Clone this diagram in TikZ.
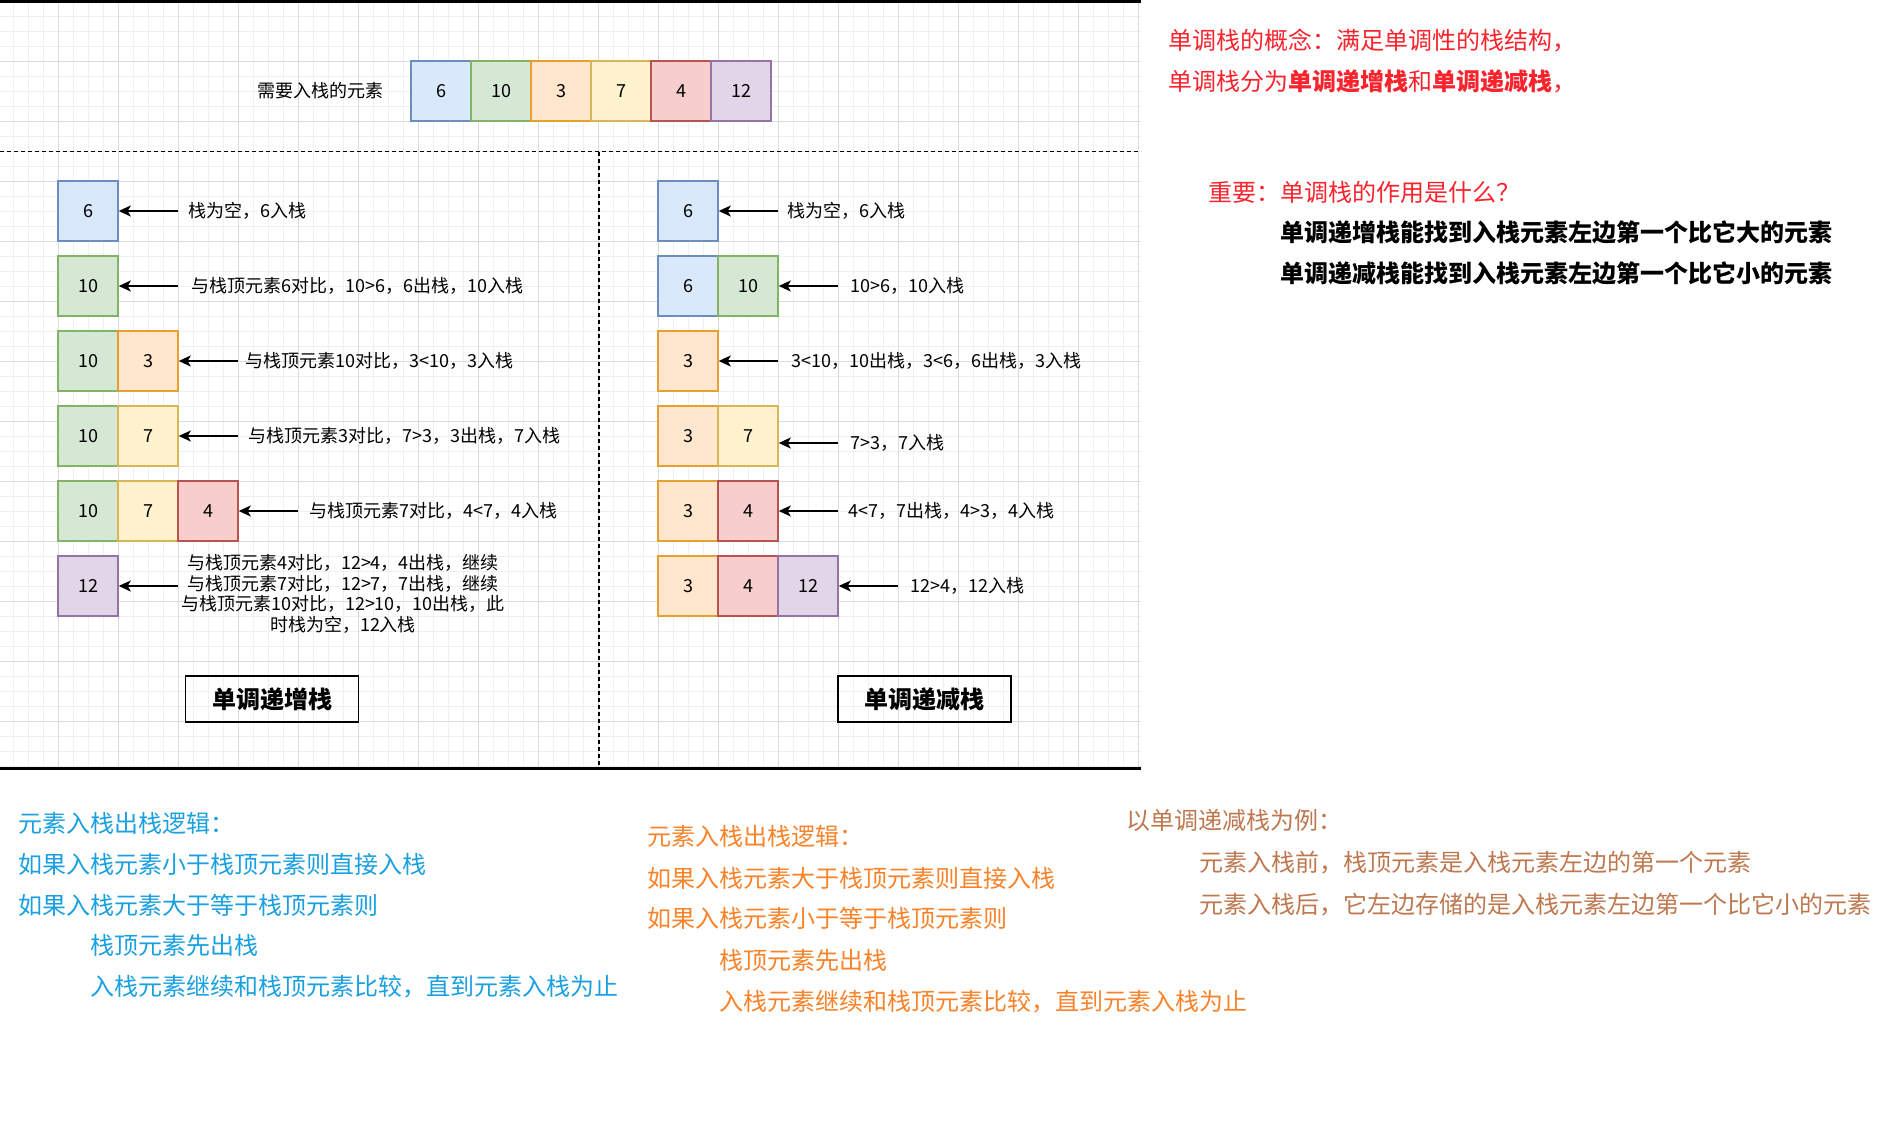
\documentclass[tikz,border=0pt]{standalone}
\usepackage{fontspec}
\setmainfont{Noto Sans CJK SC}
\usetikzlibrary{arrows.meta}
\definecolor{bluefill}{HTML}{DAE8FC}\definecolor{bluedraw}{HTML}{6C8EBF}
\definecolor{greenfill}{HTML}{D5E8D4}\definecolor{greendraw}{HTML}{82B366}
\definecolor{orangefill}{HTML}{FFE6CC}\definecolor{orangedraw}{HTML}{E6A030}
\definecolor{yellowfill}{HTML}{FFF2CC}\definecolor{yellowdraw}{HTML}{D6B656}
\definecolor{redfill}{HTML}{F8CECC}\definecolor{reddraw}{HTML}{B85450}
\definecolor{purplefill}{HTML}{E1D5E7}\definecolor{purpledraw}{HTML}{9673A6}
\definecolor{minorgrid}{HTML}{F0F0F0}\definecolor{majorgrid}{HTML}{DCDCDC}
\definecolor{notered}{HTML}{F8232D}\definecolor{noteblue}{HTML}{1AA0E0}
\definecolor{noteorange}{HTML}{FA8228}\definecolor{notebrown}{HTML}{BE7850}
\tikzset{
  cell/.style={draw=#1draw, fill=#1fill, line width=1.5pt, minimum width=60pt,
    minimum height=60pt, inner sep=0pt, font=\fontsize{18}{18}\selectfont},
  txt/.style={anchor=base west, inner sep=0pt, font=\fontsize{#1}{#1}\selectfont,
    yshift={-0.38*#1}},
  arr/.style={-{Stealth[length=12pt,width=11pt,inset=3pt]}, line width=1.5pt},
  minorline/.style={draw=minorgrid, line width=1pt},
  majorline/.style={draw=majorgrid, line width=1pt},
  titlebox/.style={draw, line width=1.5pt, minimum width=173pt, minimum height=46pt,
    inner sep=0pt, font=\fontsize{24}{24}\selectfont\bfseries},
  sepline/.style={line width=1.5pt, dash pattern=on 4pt off 3pt}
}
\begin{document}
\begin{tikzpicture}[x=1pt,y=-1pt]
\useasboundingbox (0,0) rectangle (1880,1128);
\fill[white] (0,0) rectangle (1880,1128);
% grid
\foreach \x in {13,28,...,1138} \draw[minorline] (\x,0) -- (\x,767);
\foreach \y in {1,16,...,766} \draw[minorline] (0,\y) -- (1141,\y);
\foreach \x in {58,118,...,1138} \draw[majorline] (\x,0) -- (\x,767);
\foreach \y in {1,61,...,721} \draw[majorline] (0,\y) -- (1141,\y);
% frame lines
\draw[line width=3pt] (0,1.5) -- (1141,1.5);
\draw[line width=3.5pt] (0,768.3) -- (1141,768.3);
\draw[sepline] (0,151.5) -- (1141,151.5);
\draw[sepline] (599,151.5) -- (599,766.5);
% top row
\node[txt=18] (need) at (257,91) {需要入栈的元素};
\node[cell=blue] (t1) at (441,91) {6};
\node[cell=green] (t2) at (501,91) {10};
\node[cell=orange] (t3) at (561,91) {3};
\node[cell=yellow] (t4) at (621,91) {7};
\node[cell=red] (t5) at (681,91) {4};
\node[cell=purple] (t6) at (741,91) {12};
% left stack (increasing)
\node[cell=blue] (L1a) at (88,211) {6};
\coordinate (L1t) at (178,211);
\draw[arr] (L1t) -- (L1a.east);
\node[txt=18] (L1s) at (188,211) {栈为空，6入栈};

\node[cell=green] (L2a) at (88,286) {10};
\coordinate (L2t) at (178,286);
\draw[arr] (L2t) -- (L2a.east);
\node[txt=18] (L2s) at (191.5,286) {与栈顶元素6对比，10>6，6出栈，10入栈};

\node[cell=green] (L3a) at (88,361) {10};
\node[cell=orange] (L3b) at (148,361) {3};
\coordinate (L3t) at (237.5,361);
\draw[arr] (L3t) -- (L3b.east);
\node[txt=18] (L3s) at (245,361) {与栈顶元素10对比，3<10，3入栈};

\node[cell=green] (L4a) at (88,436) {10};
\node[cell=yellow] (L4b) at (148,436) {7};
\coordinate (L4t) at (237.5,436);
\draw[arr] (L4t) -- (L4b.east);
\node[txt=18] (L4s) at (248,436) {与栈顶元素3对比，7>3，3出栈，7入栈};

\node[cell=green] (L5a) at (88,511) {10};
\node[cell=yellow] (L5b) at (148,511) {7};
\node[cell=red] (L5c) at (208,511) {4};
\coordinate (L5t) at (298,511);
\draw[arr] (L5t) -- (L5c.east);
\node[txt=18] (L5s) at (309.5,511) {与栈顶元素7对比，4<7，4入栈};

\node[cell=purple] (L6a) at (88,586) {12};
\coordinate (L6t) at (178,586);
\draw[arr] (L6t) -- (L6a.east);
\node[align=center, inner sep=0pt, font=\fontsize{18}{20.7}\selectfont] (L6s) at (343,594)
  {与栈顶元素4对比，12>4，4出栈，继续\\与栈顶元素7对比，12>7，7出栈，继续\\与栈顶元素10对比，12>10，10出栈，此\\时栈为空，12入栈};

% right stack (decreasing)
\node[cell=blue] (R1a) at (688,211) {6};
\coordinate (R1t) at (777.5,211);
\draw[arr] (R1t) -- (R1a.east);
\node[txt=18] (R1s) at (787.5,211) {栈为空，6入栈};

\node[cell=blue] (R2a) at (688,286) {6};
\node[cell=green] (R2b) at (748,286) {10};
\coordinate (R2t) at (837.5,286);
\draw[arr] (R2t) -- (R2b.east);
\node[txt=18] (R2s) at (850,286) {10>6，10入栈};

\node[cell=orange] (R3a) at (688,361) {3};
\coordinate (R3t) at (777.5,361);
\draw[arr] (R3t) -- (R3a.east);
\node[txt=18] (R3s) at (791,361) {3<10，10出栈，3<6，6出栈，3入栈};

\node[cell=orange] (R4a) at (688,436) {3};
\node[cell=yellow] (R4b) at (748,436) {7};
\coordinate (R4t) at (837.5,443);
\draw[arr] (R4t) -- (R4t -| R4b.east);
\node[txt=18] (R4s) at (850,443) {7>3，7入栈};

\node[cell=orange] (R5a) at (688,511) {3};
\node[cell=red] (R5b) at (748,511) {4};
\coordinate (R5t) at (837.5,511);
\draw[arr] (R5t) -- (R5b.east);
\node[txt=18] (R5s) at (848,511) {4<7，7出栈，4>3，4入栈};

\node[cell=orange] (R6a) at (688,586) {3};
\node[cell=red] (R6b) at (748,586) {4};
\node[cell=purple] (R6c) at (808,586) {12};
\coordinate (R6t) at (898,586);
\draw[arr] (R6t) -- (R6c.east);
\node[txt=18] (R6s) at (910,586) {12>4，12入栈};

% titles
\node[titlebox] (incT) at (272,699) {单调递增栈};
\node[titlebox] (decT) at (924.5,699) {单调递减栈};

% right notes
\node[txt=24, text=notered] (n1) at (1168.5,40) {单调栈的概念：满足单调性的栈结构，};
\node[txt=24, text=notered] (n2) at (1168.5,81.5) {单调栈分为\textbf{单调递增栈}和\textbf{单调递减栈}，};
\node[txt=24, text=notered] (n3) at (1208,192) {重要：单调栈的作用是什么？};
\node[txt=24, font=\fontsize{24}{24}\selectfont\bfseries] (n4) at (1280,232) {单调递增栈能找到入栈元素左边第一个比它大的元素};
\node[txt=24, font=\fontsize{24}{24}\selectfont\bfseries] (n5) at (1280,273.5) {单调递减栈能找到入栈元素左边第一个比它小的元素};

% blue notes
\node[txt=24, text=noteblue] (b1) at (18.5,823) {元素入栈出栈逻辑：};
\node[txt=24, text=noteblue] (b2) at (18.5,864.5) {如果入栈元素小于栈顶元素则直接入栈};
\node[txt=24, text=noteblue] (b3) at (18.5,905) {如果入栈元素大于等于栈顶元素则};
\node[txt=24, text=noteblue] (b4) at (90.5,945) {栈顶元素先出栈};
\node[txt=24, text=noteblue] (b5) at (90.5,986.5) {入栈元素继续和栈顶元素比较，直到元素入栈为止};

% orange notes
\node[txt=24, text=noteorange] (o1) at (647,836.5) {元素入栈出栈逻辑：};
\node[txt=24, text=noteorange] (o2) at (647,878) {如果入栈元素大于栈顶元素则直接入栈};
\node[txt=24, text=noteorange] (o3) at (647,918) {如果入栈元素小于等于栈顶元素则};
\node[txt=24, text=noteorange] (o4) at (719,960) {栈顶元素先出栈};
\node[txt=24, text=noteorange] (o5) at (719,1001.5) {入栈元素继续和栈顶元素比较，直到元素入栈为止};

% brown notes
\node[txt=24, text=notebrown] (w1) at (1126,820) {以单调递减栈为例：};
\node[txt=24, text=notebrown] (w2) at (1199.5,862) {元素入栈前，栈顶元素是入栈元素左边的第一个元素};
\node[txt=24, text=notebrown] (w3) at (1199.5,904) {元素入栈后，它左边存储的是入栈元素左边第一个比它小的元素};
\end{tikzpicture}
\end{document}
